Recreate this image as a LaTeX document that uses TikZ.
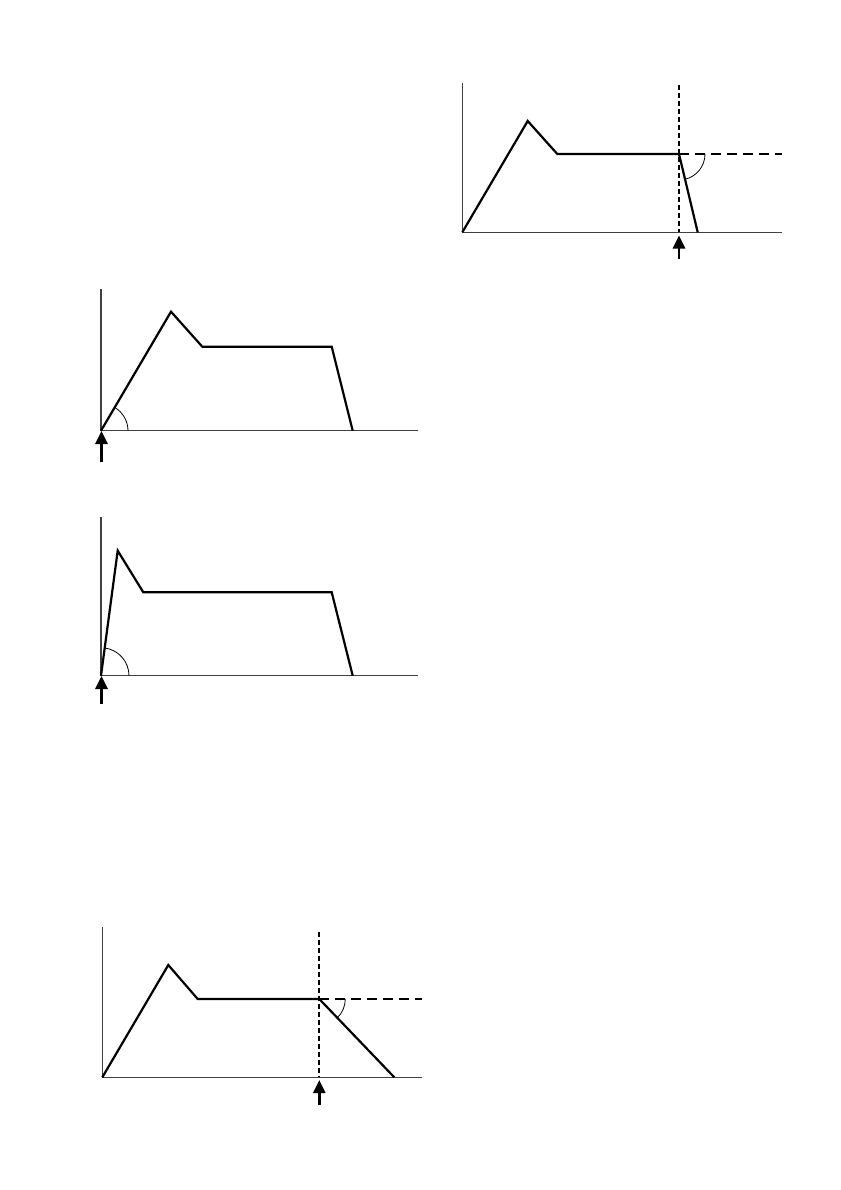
\documentclass[tikz,border=0pt]{standalone}
\usetikzlibrary{arrows.meta}
\begin{document}
\begin{tikzpicture}[x=1pt,y=1pt,
  axisline/.style={line width=1.1pt,black!75},
  curve/.style={line width=2.2pt,black,line join=miter},
  guidev/.style={line width=1.7pt,black,dash pattern=on 5pt off 3pt},
  guideh/.style={line width=2pt,black,dash pattern=on 10pt off 6pt},
  anglearc/.style={line width=0.8pt,black},
  marker/.style={line width=2.6pt,black,-{Triangle[length=13pt,width=12pt]}}]
\useasboundingbox (0,0) rectangle (840,-1190);
\fill[white] (0,0) rectangle (840,-1190);

% ---------- Graph 1 (top right) ----------
\coordinate (a0) at (462.3,-232.3);
\coordinate (a1) at (527.7,-121);
\coordinate (a2) at (557.3,-154);
\coordinate (a3) at (679,-154);
\coordinate (a4) at (697.7,-232.3);
\draw[axisline] (462.3,-83) -- (a0) -- (781.7,-232.3);
\draw[guidev] (679,-85) -- (679,-232.3);
\draw[guideh] (a3) -- (781.7,-154);
\draw[curve] (a0) -- (a1) -- (a2) -- (a3) -- (a4);
\draw[anglearc] (a3) ++(26,0) arc[start angle=0,end angle=-76.5,radius=26pt];
\coordinate (m1s) at (679,-259);
\coordinate (m1e) at (679,-235.5);
\draw[marker] (m1s) -- (m1e);

% ---------- Graph 2 ----------
\coordinate (b0) at (101,-430.7);
\coordinate (b1) at (171,-311.7);
\coordinate (b2) at (202.3,-346.7);
\coordinate (b3) at (331.7,-346.7);
\coordinate (b4) at (352.7,-430.7);
\draw[axisline] (101,-289.3) -- (b0) -- (418.3,-430.7);
\draw[curve] (b0) -- (b1) -- (b2) -- (b3) -- (b4);
\draw[anglearc] (b0) ++(27,0) arc[start angle=0,end angle=59.5,radius=27pt];
\coordinate (m2s) at (101.5,-462);
\coordinate (m2e) at (101.5,-431);
\draw[marker] (m2s) -- (m2e);

% ---------- Graph 3 ----------
\coordinate (c0) at (101,-675.7);
\coordinate (c1) at (117.7,-550.7);
\coordinate (c2) at (143.3,-592.3);
\coordinate (c3) at (331.7,-592.3);
\coordinate (c4) at (352.7,-675.7);
\draw[axisline] (101,-516.7) -- (c0) -- (418.3,-675.7);
\draw[curve] (c0) -- (c1) -- (c2) -- (c3) -- (c4);
\draw[anglearc] (c0) ++(28,0) arc[start angle=0,end angle=82.4,radius=28pt];
\coordinate (m3s) at (101.5,-704);
\coordinate (m3e) at (101.5,-676);
\draw[marker] (m3s) -- (m3e);

% ---------- Graph 4 ----------
\coordinate (d0) at (102.3,-1077.3);
\coordinate (d1) at (168.3,-965);
\coordinate (d2) at (197.7,-999);
\coordinate (d3) at (319.3,-999);
\coordinate (d4) at (394.3,-1077.3);
\draw[axisline] (102.3,-927.3) -- (d0) -- (421.7,-1077.3);
\draw[guidev] (319.3,-931.7) -- (319.3,-1077.3);
\draw[guideh] (d3) -- (421.7,-999);
\draw[curve] (d0) -- (d1) -- (d2) -- (d3) -- (d4);
\draw[anglearc] (d3) ++(26,0) arc[start angle=0,end angle=-46.2,radius=26pt];
\coordinate (m4s) at (319.3,-1105);
\coordinate (m4e) at (319.3,-1080);
\draw[marker] (m4s) -- (m4e);
\end{tikzpicture}
\end{document}
